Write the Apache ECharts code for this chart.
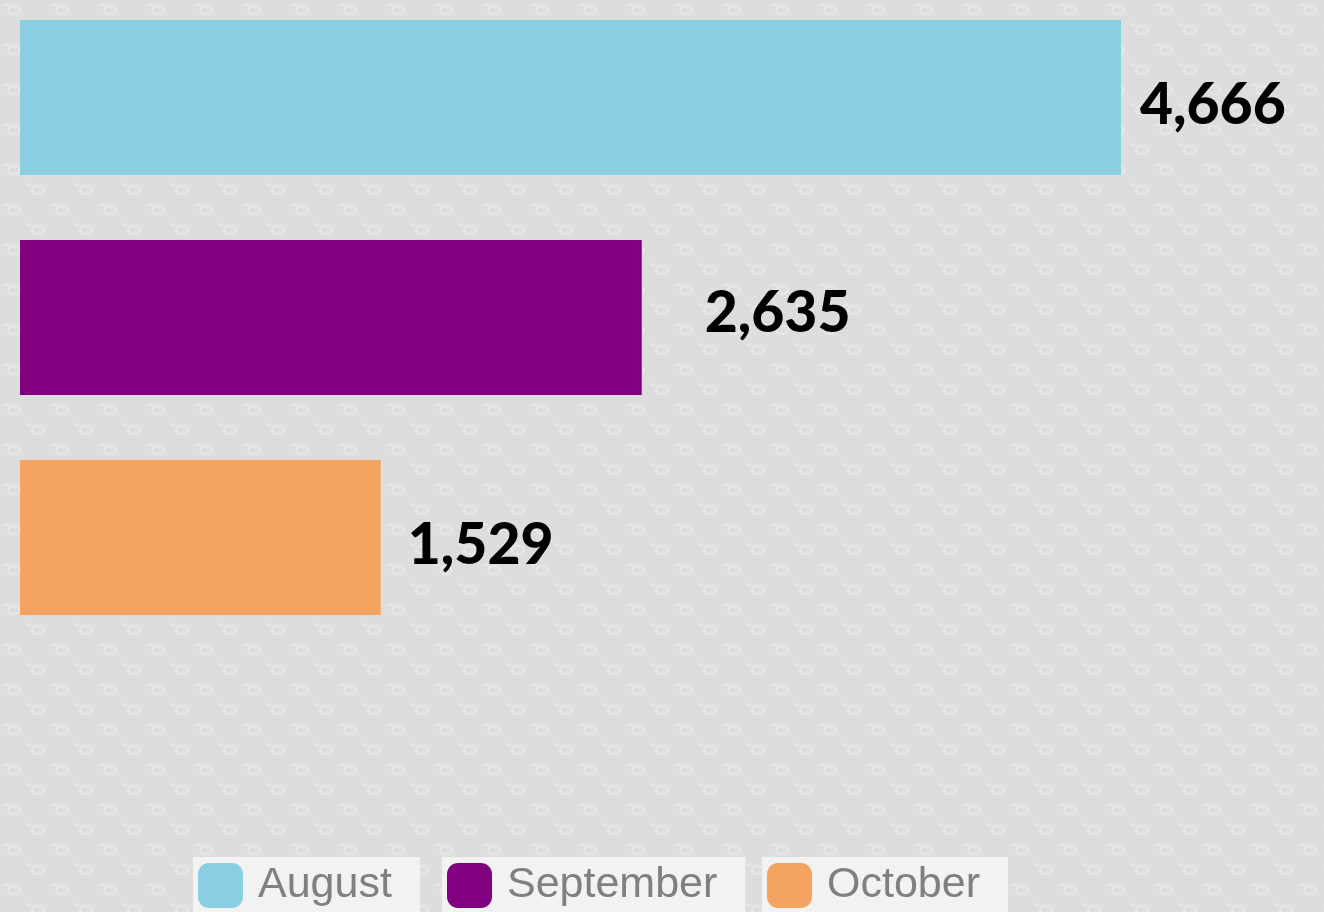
<!DOCTYPE html>
<html>
<head>
<meta charset="utf-8">
<script src="https://cdn.jsdelivr.net/npm/echarts@6/dist/echarts.min.js"></script>
<style>html,body{margin:0;padding:0;}#c{width:1324px;height:912px;}</style>
</head>
<body>
<div id="c"></div>
<script>
const categories = ['Total'];
const seriesNames = ['August', 'September', 'October'];
const values = [4666, 2635, 1529];
const colors = ['#89cfe1', '#800080', '#f4a460'];
// label nudges (style only)
const labelOffsets = [[14, 8], [58, -4], [22, 8]];
const legendLefts = [193, 442, 762];

// background pattern tile
const tile = document.createElement('canvas');
tile.width = 48; tile.height = 40;
const g = tile.getContext('2d');
g.fillStyle = '#dddddd'; g.fillRect(0, 0, 48, 40);
g.strokeStyle = '#e7e7e7'; g.lineWidth = 2;
function eye(x, y) {
  g.beginPath(); g.ellipse(x, y, 6, 4, 0, 0, Math.PI * 2); g.stroke();
  g.beginPath(); g.moveTo(x - 11, y - 4); g.lineTo(x - 6, y - 6); g.stroke();
}
eye(14, 10); eye(38, 30); eye(62, 10); eye(-10, 30);

const series = seriesNames.map((name, i) => ({
  name: name,
  type: 'bar',
  barWidth: 155,
  barGap: '41.935%',
  barCategoryGap: 0,
  itemStyle: { color: colors[i] },
  data: [{ value: values[i], label: { offset: labelOffsets[i] } }],
  label: {
    show: true,
    position: 'right',
    distance: 5,
    formatter: p => p.value.toLocaleString('en-US'),
    fontFamily: 'Lato',
    fontWeight: 900,
    fontSize: 57,
    color: '#000'
  }
}));

const chart = echarts.init(document.getElementById('c'), null, { renderer: 'canvas' });
chart.setOption({
  backgroundColor: { image: tile, repeat: 'repeat' },
  animation: false,
  grid: { left: 20, right: 203, top: 20, height: 595 },
  xAxis: { type: 'value', min: 0, max: 'dataMax', show: false },
  yAxis: { type: 'category', data: categories, inverse: true, show: false },
  legend: seriesNames.map((name, i) => ({
    data: [name],
    left: legendLefts[i],
    top: 857,
    backgroundColor: '#f2f2f2',
    padding: [6, 28, 6, 5],
    itemWidth: 45,
    itemHeight: 45,
    icon: 'roundRect',
    selectedMode: false,
    textStyle: {
      fontFamily: 'Liberation Sans',
      fontSize: 43,
      color: '#808080',
      padding: [10, 0, 0, 10]
    }
  })),
  series: series
});
</script>
</body>
</html>
